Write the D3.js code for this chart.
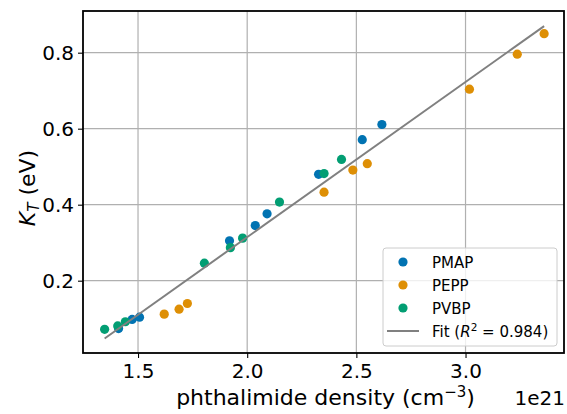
<!DOCTYPE html>
<meta charset="utf-8">
<script src="https://d3js.org/d3.v7.min.js"></script>
<style>
  body { margin: 0; background: #fff; }
  text { font-family: "DejaVu Sans", sans-serif; fill: #000; }
</style>
<div id="chart"></div>
<script>
// density values are in units of 1e21 cm^-3
const pmapX = [1.411, 1.473, 1.507, 1.919, 2.037, 2.091, 2.327, 2.527, 2.617];
const pmapY = [0.074, 0.098, 0.104, 0.305, 0.345, 0.376, 0.480, 0.571, 0.611];
const peppX = [1.620, 1.688, 1.726, 2.352, 2.484, 2.550, 3.018, 3.237, 3.360];
const peppY = [0.112, 0.125, 0.140, 0.433, 0.491, 0.508, 0.704, 0.796, 0.850];
const pvbpX = [1.347, 1.407, 1.442, 1.804, 1.923, 1.979, 2.148, 2.352, 2.432];
const pvbpY = [0.072, 0.081, 0.092, 0.246, 0.287, 0.312, 0.407, 0.482, 0.519];

const fitSlope = 0.4083, fitIntercept = -0.502, fitR2 = 0.984;
const fitRange = [1.347, 3.360];

const xTicks = [1.5, 2.0, 2.5, 3.0];
const yTicks = [0.2, 0.4, 0.6, 0.8];

const series = [
  {name: "PMAP", color: "#0173b2", xs: pmapX, ys: pmapY},
  {name: "PEPP", color: "#de8f05", xs: peppX, ys: peppY},
  {name: "PVBP", color: "#029e73", xs: pvbpX, ys: pvbpY}
];

const W = 567, H = 414;
const plot = {left: 83, right: 564, top: 11, bottom: 353};

const svg = d3.select("#chart").append("svg")
  .attr("width", W).attr("height", H);

const x = d3.scaleLinear().domain([1.248, 3.451]).range([plot.left, plot.right]);
const y = d3.scaleLinear().domain([0.0097, 0.9097]).range([plot.bottom, plot.top]);

// grid
svg.append("g").selectAll("line").data(xTicks).join("line")
  .attr("x1", d => x(d)).attr("x2", d => x(d))
  .attr("y1", plot.top).attr("y2", plot.bottom)
  .attr("stroke", "#b0b0b0").attr("stroke-width", 1.2);
svg.append("g").selectAll("line").data(yTicks).join("line")
  .attr("y1", d => y(d)).attr("y2", d => y(d))
  .attr("x1", plot.left).attr("x2", plot.right)
  .attr("stroke", "#b0b0b0").attr("stroke-width", 1.2);

// axes
const xAxis = svg.append("g")
  .attr("transform", `translate(0,${plot.bottom})`)
  .call(d3.axisBottom(x).tickValues(xTicks).tickFormat(d3.format(".1f")).tickSize(5).tickPadding(6));
const yAxis = svg.append("g")
  .attr("transform", `translate(${plot.left},0)`)
  .call(d3.axisLeft(y).tickValues(yTicks).tickFormat(d3.format(".1f")).tickSize(5).tickPadding(4));
[xAxis, yAxis].forEach(a => {
  a.select(".domain").remove();
  a.selectAll(".tick line").attr("stroke", "#000").attr("stroke-width", 1.1);
  a.selectAll(".tick text").style("font-size", "20px").attr("fill", "#000");
});

// points
series.forEach(s => {
  svg.append("g").selectAll("circle").data(s.xs.map((v, i) => [v, s.ys[i]])).join("circle")
    .attr("cx", d => x(d[0])).attr("cy", d => y(d[1]))
    .attr("r", 4.6).attr("fill", s.color);
});

// fit line
svg.append("line")
  .attr("x1", x(fitRange[0])).attr("y1", y(fitSlope * fitRange[0] + fitIntercept))
  .attr("x2", x(fitRange[1])).attr("y2", y(fitSlope * fitRange[1] + fitIntercept))
  .attr("stroke", "#808080").attr("stroke-width", 2);

// frame
svg.append("rect")
  .attr("x", plot.left).attr("y", plot.top)
  .attr("width", plot.right - plot.left).attr("height", plot.bottom - plot.top)
  .attr("fill", "none").attr("stroke", "#000").attr("stroke-width", 1.8);

// axis labels
const xl = svg.append("text")
  .attr("x", (plot.left + plot.right) / 2 + 2).attr("y", 405)
  .attr("text-anchor", "middle").style("font-size", "22px");
xl.append("tspan").text("phthalimide density (cm");
xl.append("tspan").attr("dy", -8).style("font-size", "15px").text("\u22123");
xl.append("tspan").attr("dy", 8).text(")");

svg.append("text")
  .attr("x", plot.right + 1).attr("y", 405)
  .attr("text-anchor", "end").style("font-size", "20px").text("1e21");

const yl = svg.append("text")
  .attr("transform", `translate(35,188) rotate(-90)`)
  .attr("text-anchor", "middle").style("font-size", "22px");
yl.append("tspan").style("font-style", "italic").text("K");
yl.append("tspan").attr("dy", 4).style("font-size", "15px").style("font-style", "italic").text("T");
yl.append("tspan").attr("dy", -4).text(" (eV)");

// legend
const lg = svg.append("g").attr("transform", "translate(383,248)");
lg.append("rect")
  .attr("width", 174).attr("height", 98).attr("rx", 3)
  .attr("fill", "#fff").attr("fill-opacity", 0.8)
  .attr("stroke", "#cccccc").attr("stroke-width", 1);
series.forEach((s, i) => {
  lg.append("circle").attr("cx", 20).attr("cy", 14 + i * 23).attr("r", 4.6).attr("fill", s.color);
  lg.append("text").attr("x", 49).attr("y", 14 + i * 23 + 5.5)
    .style("font-size", "15px").text(s.name);
});
lg.append("line").attr("x1", 4).attr("x2", 36).attr("y1", 83).attr("y2", 83)
  .attr("stroke", "#808080").attr("stroke-width", 2);
const ft = lg.append("text").attr("x", 49).attr("y", 88.5).style("font-size", "15px");
ft.append("tspan").text("Fit (");
ft.append("tspan").style("font-style", "italic").text("R");
ft.append("tspan").attr("dy", -6).style("font-size", "10.5px").text("2");
ft.append("tspan").attr("dy", 6).text(" = " + fitR2.toFixed(3) + ")");
</script>
